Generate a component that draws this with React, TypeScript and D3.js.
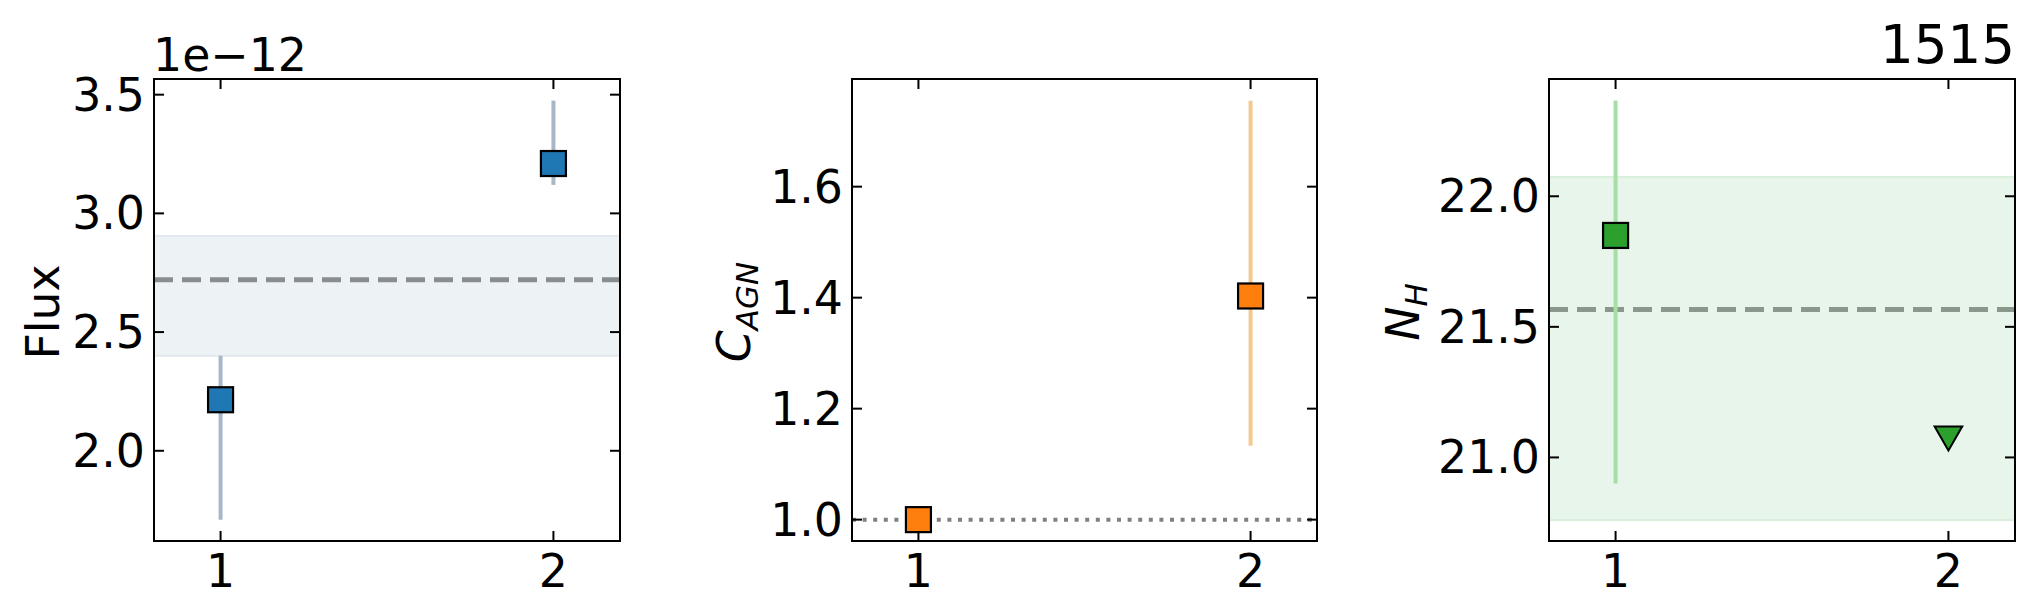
import React from "react";
import * as d3 from "d3";

// epochs on the x axis
const epochs = [1, 2];
const xTicks = [1, 2];

// panel 1: flux (units of 1e-12)
const fluxValues = [2.215, 3.21];
const fluxErrLow = [1.71, 3.12];
const fluxErrHigh = [2.4, 3.475];
const fluxMean = 2.72;
const fluxBand = [2.4, 2.905];
const fluxTicks = [2.0, 2.5, 3.0, 3.5];
const fluxDomain = [1.62, 3.566];

// panel 2: C_AGN
const cagnValues = [1.0, 1.403];
const cagnErrLow = [null, 1.133];
const cagnErrHigh = [null, 1.755];
const cagnRef = 1.0;
const cagnTicks = [1.0, 1.2, 1.4, 1.6];
const cagnDomain = [0.9615, 1.794];

// panel 3: N_H (log), second epoch an upper limit
const nhValues = [21.85, 21.08];
const nhUpperLimit = [false, true];
const nhErrLow = [20.9, null];
const nhErrHigh = [22.367, null];
const nhMean = 21.566;
const nhBand = [20.76, 22.074];
const nhTicks = [21.0, 21.5, 22.0];
const nhDomain = [20.68, 22.449];

const W = 2034;
const H = 614;
const TOP = 79;
const BOTTOM = 541;
const FONT = "DejaVu Sans, sans-serif";
const FS = 45.8;

const Panel = ({
  left,
  right,
  domain,
  ticks,
  values,
  errLow,
  errHigh,
  limits,
  mean,
  band,
  refLine,
  fill,
  errColor,
  bandColor,
  bandEdge,
  meanColor,
}) => {
  const x = d3.scaleLinear().domain([0.8, 2.2]).range([left, right]);
  const y = d3.scaleLinear().domain(domain).range([BOTTOM, TOP]);
  const fmt = d3.format(".1f");
  const sq = 25;
  const tri = d3.symbol().type(d3.symbolTriangle).size(330);

  return (
    <g>
      {band && (
        <rect
          x={left}
          width={right - left}
          y={y(band[1])}
          height={y(band[0]) - y(band[1])}
          fill={bandColor}
          stroke={bandEdge}
          strokeWidth={2}
        />
      )}
      {mean != null && (
        <line
          x1={left}
          x2={right}
          y1={y(mean)}
          y2={y(mean)}
          stroke={meanColor}
          strokeWidth={5}
          strokeDasharray="19,9"
        />
      )}
      {refLine != null && (
        <line
          x1={left}
          x2={right}
          y1={y(refLine)}
          y2={y(refLine)}
          stroke="#808080"
          strokeWidth={4}
          strokeDasharray="4,6.6"
        />
      )}
      {epochs.map((e, i) =>
        errLow[i] != null ? (
          <line
            key={"err" + i}
            x1={x(e)}
            x2={x(e)}
            y1={y(errLow[i])}
            y2={y(errHigh[i])}
            stroke={errColor}
            strokeWidth={4}
          />
        ) : null
      )}
      {epochs.map((e, i) =>
        limits && limits[i] ? (
          <path
            key={"m" + i}
            d={tri()}
            transform={`translate(${x(e)},${y(values[i]) - 2}) rotate(180)`}
            fill={fill}
            stroke="#000"
            strokeWidth={2}
          />
        ) : (
          <rect
            key={"m" + i}
            x={x(e) - sq / 2}
            y={y(values[i]) - sq / 2}
            width={sq}
            height={sq}
            fill={fill}
            stroke="#000"
            strokeWidth={2.2}
          />
        )
      )}
      {/* frame */}
      <rect
        x={left}
        y={TOP}
        width={right - left}
        height={BOTTOM - TOP}
        fill="none"
        stroke="#000"
        strokeWidth={2}
      />
      {/* y ticks, inward on both sides */}
      {ticks.map((t) => (
        <g key={"yt" + t}>
          <line x1={left} x2={left + 10} y1={y(t)} y2={y(t)} stroke="#000" strokeWidth={2} />
          <line x1={right} x2={right - 10} y1={y(t)} y2={y(t)} stroke="#000" strokeWidth={2} />
          <text
            x={left - 9}
            y={y(t)}
            textAnchor="end"
            dominantBaseline="central"
            fontFamily={FONT}
            fontSize={FS}
          >
            {fmt(t)}
          </text>
        </g>
      ))}
      {/* x ticks, inward on top and bottom */}
      {xTicks.map((t) => (
        <g key={"xt" + t}>
          <line x1={x(t)} x2={x(t)} y1={BOTTOM} y2={BOTTOM - 10} stroke="#000" strokeWidth={2} />
          <line x1={x(t)} x2={x(t)} y1={TOP} y2={TOP + 10} stroke="#000" strokeWidth={2} />
          <text x={x(t)} y={587} textAnchor="middle" fontFamily={FONT} fontSize={FS}>
            {t}
          </text>
        </g>
      ))}
    </g>
  );
};

const App = () => {
  const midY = (TOP + BOTTOM) / 2 + 2;
  return (
    <div style={{ position: "absolute", left: 0, top: 0 }}>
      <svg width={W} height={H} style={{ display: "block", background: "#fff" }}>
        <Panel
          left={154}
          right={620}
          domain={fluxDomain}
          ticks={fluxTicks}
          values={fluxValues}
          errLow={fluxErrLow}
          errHigh={fluxErrHigh}
          mean={fluxMean}
          band={fluxBand}
          fill="#1f77b4"
          errColor="#a7b7c8"
          bandColor="#edf2f5"
          bandEdge="#e2e9ee"
          meanColor="#8a8d90"
        />
        <text x={153} y={71} fontFamily={FONT} fontSize={FS}>
          1e−12
        </text>
        <text
          transform={`translate(59,${midY}) rotate(-90)`}
          textAnchor="middle"
          fontFamily={FONT}
          fontSize={FS}
        >
          Flux
        </text>

        <Panel
          left={852}
          right={1317}
          domain={cagnDomain}
          ticks={cagnTicks}
          values={cagnValues}
          errLow={cagnErrLow}
          errHigh={cagnErrHigh}
          refLine={cagnRef}
          fill="#ff7f0e"
          errColor="#f2c98f"
        />
        <text
          transform={`translate(750,${midY}) rotate(-90)`}
          textAnchor="middle"
          fontFamily={FONT}
          fontSize={FS}
          fontStyle="italic"
        >
          C
          <tspan fontSize={31} dy={8}>
            AGN
          </tspan>
        </text>

        <Panel
          left={1549}
          right={2015}
          domain={nhDomain}
          ticks={nhTicks}
          values={nhValues}
          errLow={nhErrLow}
          errHigh={nhErrHigh}
          limits={nhUpperLimit}
          mean={nhMean}
          band={nhBand}
          fill="#2ca02c"
          errColor="#a6dea6"
          bandColor="#e8f5ea"
          bandEdge="#d9efdd"
          meanColor="#8a988b"
        />
        <text
          transform={`translate(1419,${midY}) rotate(-90)`}
          textAnchor="middle"
          fontFamily={FONT}
          fontSize={FS}
          fontStyle="italic"
        >
          N
          <tspan fontSize={31} dy={8}>
            H
          </tspan>
        </text>
        <text x={2015} y={63} textAnchor="end" fontFamily={FONT} fontSize={53}>
          1515
        </text>
      </svg>
    </div>
  );
};

export default App;
